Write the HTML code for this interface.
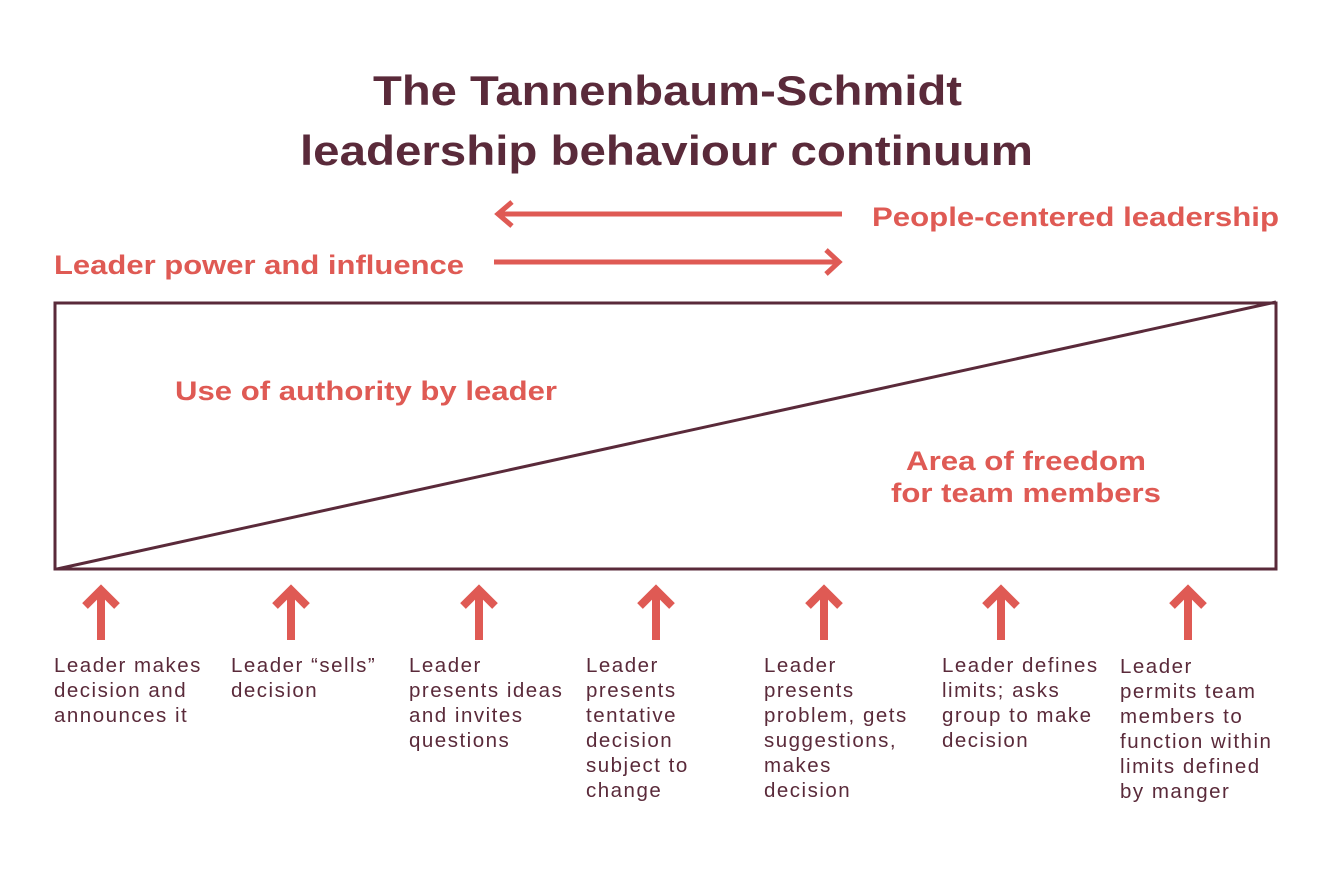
<!DOCTYPE html>
<html><head><meta charset="utf-8"><style>
body{margin:0;background:#fff;width:1333px;height:885px;overflow:hidden}
svg{display:block;font-family:"Liberation Sans",sans-serif}
.t{font-size:42px;font-weight:bold;fill:#5a2a3a}
.r{font-size:27px;font-weight:bold;fill:#df5a54}
.s{font-size:20.5px;fill:#5a2a3a;letter-spacing:1.5px}
</style></head><body>
<svg width="1333" height="885" viewBox="0 0 1333 885">
<text class="t" x="373" y="105" textLength="589" lengthAdjust="spacingAndGlyphs">The Tannenbaum-Schmidt</text>
<text class="t" x="300" y="165" textLength="733" lengthAdjust="spacingAndGlyphs">leadership behaviour continuum</text>
<g stroke="#df5a54" stroke-width="5" fill="none">
<line x1="842" y1="214" x2="499" y2="214"/><polyline points="512,202 498,214 512,226"/>
<line x1="494" y1="262" x2="838" y2="262"/><polyline points="826,250 839,262 826,274"/>
</g>
<text class="r" x="872" y="226" textLength="407" lengthAdjust="spacingAndGlyphs">People-centered leadership</text>
<text class="r" x="54" y="274" textLength="410" lengthAdjust="spacingAndGlyphs">Leader power and influence</text>
<rect x="55" y="303" width="1221" height="266" fill="none" stroke="#5a2a3a" stroke-width="3"/>
<line x1="57" y1="569" x2="1276" y2="302" stroke="#5a2a3a" stroke-width="3"/>
<text class="r" x="175" y="400" textLength="382" lengthAdjust="spacingAndGlyphs">Use of authority by leader</text>
<text class="r" x="906" y="470" textLength="240" lengthAdjust="spacingAndGlyphs">Area of freedom</text>
<text class="r" x="891" y="502" textLength="270" lengthAdjust="spacingAndGlyphs">for team members</text>
<g stroke="#df5a54" stroke-width="8" fill="none">
<g id="a"><line x1="101" y1="640" x2="101" y2="590"/><polyline points="85,606 101,590 117,606"/></g>
<use href="#a" x="190"/><use href="#a" x="378"/><use href="#a" x="555"/><use href="#a" x="723"/><use href="#a" x="900"/><use href="#a" x="1087"/>
</g>
<g class="s">
<text x="54" y="672">Leader makes</text><text x="54" y="697">decision and</text><text x="54" y="722">announces it</text>
<text x="231" y="672">Leader “sells”</text><text x="231" y="697">decision</text>
<text x="409" y="672">Leader</text><text x="409" y="697">presents ideas</text><text x="409" y="722">and invites</text><text x="409" y="747">questions</text>
<text x="586" y="672">Leader</text><text x="586" y="697">presents</text><text x="586" y="722">tentative</text><text x="586" y="747">decision</text><text x="586" y="772">subject to</text><text x="586" y="797">change</text>
<text x="764" y="672">Leader</text><text x="764" y="697">presents</text><text x="764" y="722">problem, gets</text><text x="764" y="747">suggestions,</text><text x="764" y="772">makes</text><text x="764" y="797">decision</text>
<text x="942" y="672">Leader defines</text><text x="942" y="697">limits; asks</text><text x="942" y="722">group to make</text><text x="942" y="747">decision</text>
<text x="1120" y="673">Leader</text><text x="1120" y="698">permits team</text><text x="1120" y="723">members to</text><text x="1120" y="748">function within</text><text x="1120" y="773">limits defined</text><text x="1120" y="798">by manger</text>
</g>
</svg>
</body></html>
